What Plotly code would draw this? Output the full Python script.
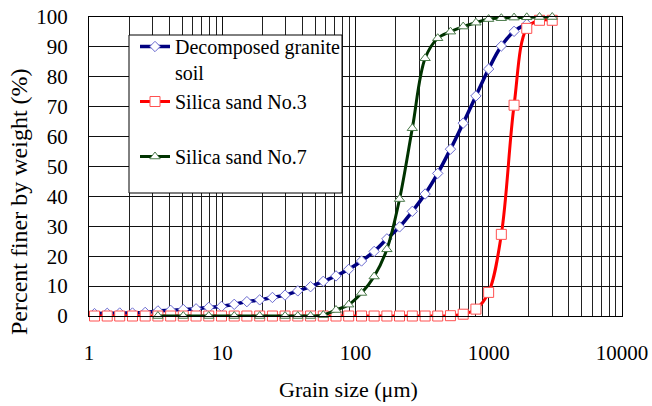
import plotly.graph_objects as go

# Grain sizes (um) of the measurement points
grain_size = [1.1, 1.37, 1.7, 2.12, 2.64, 3.29, 4.1, 5.1, 6.36, 7.92, 9.87, 12.3, 15.3, 19.1,
              23.8, 29.6, 36.9, 46.0, 57.3, 71.4, 88.9, 111, 138, 172, 214, 267, 333, 414,
              516, 643, 801, 998, 1243, 1549, 1929, 2404, 2995]

# Decomposed granite soil
dg_x = grain_size[:35]
dg_y = [0.8, 0.9, 1.0, 1.0, 1.2, 1.7, 1.9, 2.2, 2.4, 2.9, 3.2, 3.9, 4.8, 5.4, 6.2, 7.0, 8.4,
        9.8, 11.6, 13.4, 15.6, 18.4, 21.6, 25.8, 29.8, 35.0, 40.8, 47.7, 55.8, 64.5, 73.6,
        82.6, 90.3, 95.2, 97.6]

# Silica sand No.3
s3_x = grain_size
s3_y = [0, 0, 0, 0, 0, 0, 0, 0, 0, 0, 0, 0, 0, 0, 0, 0, 0, 0, 0, 0, 0, 0, 0, 0, 0, 0, 0, 0,
        0.1, 0.6, 2.3, 7.9, 27.3, 70.5, 96.2, 98.9, 98.9]

# Silica sand No.7
s7_x = [3.29, 5.1, 7.92, 12.3, 19.1, 29.6, 36.9, 46.0, 57.3, 71.4, 88.9, 111, 138, 172, 214,
        267, 333, 414, 516, 643, 801, 998, 1243, 1549, 1929, 2404, 2995]
s7_y = [0, 0, 0, 0, 0, 0, 0, 0, 0.3, 2.0, 3.8, 7.7, 13.2, 22.3, 39.1, 62.8, 86.2, 92.9, 95.1,
        96.8, 98.1, 99.3, 99.6, 99.8, 99.9, 100, 100]

x_ticks = [1, 10, 100, 1000, 10000]
x_tick_labels = ["1", "10", "100", "1000", "10000"]
y_ticks = list(range(0, 101, 10))

FONT = "'Times New Roman', 'Liberation Serif', Tinos, 'DejaVu Serif', serif"
L, R, T, B = 89, 622, 17, 316
W, H = 652, 406


def px(xp):
    return (xp - L) / (R - L)


def py(yp):
    return (B - yp) / (B - T)


fig = go.Figure()
fig.add_trace(go.Scatter(
    x=dg_x, y=dg_y, mode="lines+markers", name="Decomposed granite<br>soil",
    line=dict(color="#000080", width=3.5, shape="spline"),
    marker=dict(symbol="diamond", size=8, color="white", line=dict(color="#6A6AD0", width=1)),
    cliponaxis=False, legendgroup="a"))
fig.add_trace(go.Scatter(
    x=s3_x, y=s3_y, mode="lines+markers", name="Silica sand No.3<br>\u00a0",
    line=dict(color="#FF0000", width=3, shape="spline"),
    marker=dict(symbol="square", size=10, color="white", line=dict(color="#FF5050", width=1)),
    cliponaxis=False, legendgroup="b"))
fig.add_trace(go.Scatter(
    x=s7_x, y=s7_y, mode="lines+markers", name="Silica sand No.7",
    line=dict(color="#003300", width=3, shape="spline"),
    marker=dict(symbol="triangle-up", size=9, color="white", line=dict(color="#4A7A4A", width=1)),
    cliponaxis=False, legendgroup="c"))

fig.add_shape(type="rect", xref="paper", yref="paper",
              x0=px(129), x1=px(342), y0=py(193), y1=py(35),
              fillcolor="white", line=dict(color="black", width=1), layer="above")

fig.add_annotation(text="Percent finer by weight (%)", xref="paper", yref="paper",
                   x=px(19), y=py(202), xanchor="center", yanchor="middle", textangle=-90,
                   showarrow=False, font=dict(family=FONT, size=24, color="black"))
fig.add_annotation(text="Grain size (\u03bcm)", xref="paper", yref="paper",
                   x=px(348.5), y=py(389), xanchor="center", yanchor="middle",
                   showarrow=False, font=dict(family=FONT, size=22, color="black"))

fig.update_layout(
    width=W, height=H,
    margin=dict(l=L, r=W - R, t=T, b=H - B, autoexpand=False),
    paper_bgcolor="white", plot_bgcolor="white",
    font=dict(family=FONT, color="black"),
    showlegend=True,
    legend=dict(x=px(135), y=py(27), xanchor="left", yanchor="top",
                bgcolor="rgba(0,0,0,0)", borderwidth=0, valign="top",
                font=dict(family=FONT, size=20, color="black"),
                tracegroupgap=0, itemwidth=30),
    xaxis=dict(type="log", range=[0, 4], tickvals=x_ticks, ticktext=x_tick_labels,
               showgrid=True, gridcolor="#111111", gridwidth=1,
               minor=dict(dtick="D1", showgrid=True, gridcolor="#222222", gridwidth=1),
               showline=True, linecolor="black", linewidth=1, mirror=True,
               ticks="", ticklabelstandoff=18, zeroline=False, automargin=False,
               tickfont=dict(family=FONT, size=21, color="black")),
    yaxis=dict(range=[0, 100], tickvals=y_ticks, showgrid=True, gridcolor="#111111", gridwidth=1,
               showline=True, linecolor="black", linewidth=1, mirror=True,
               ticks="", ticklabelstandoff=16, zeroline=False, automargin=False,
               tickfont=dict(family=FONT, size=21, color="black")),
)

fig.write_html("out.html")
